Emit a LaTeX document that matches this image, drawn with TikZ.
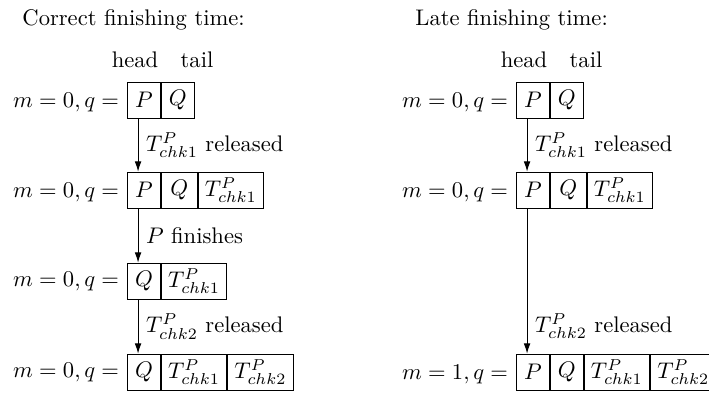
\documentclass[tikz,border=0pt]{standalone}
\usepackage{amsmath}
\usepackage{tikz}
\usetikzlibrary{arrows.meta}
\usetikzlibrary{positioning}

\begin{document}
\begin{tikzpicture}[x=0.443pt, y=-0.443pt,
  cell/.style={draw, minimum height=15.9pt, minimum width=14.6pt, inner sep=0.5pt, anchor=west},
  wide/.style={cell, minimum width=29pt},
  trans/.style={-{Latex[length=1.6mm, width=1.05mm]}}]
\useasboundingbox (0,0) rectangle (709,393);

% correct finishing time
\node[anchor=base west, inner sep=0pt] (ttlA) at (22,25) {Correct finishing time:};
\node[anchor=base] (hdA) at (135,67) {head};
\node[anchor=base] (tlA) at (197,67) {tail};

\node[cell] (a1p) at (127,100) {$P$};
\node[cell, right=0pt of a1p] (a1q) {$Q$};
\node[anchor=base east] (a1m) at (a1p.base west) {$m = 0, q =$};

\node[cell] (a2p) at (127,190) {$P$};
\node[cell, minimum width=15.9pt, right=0pt of a2p] (a2q) {$Q$};
\node[wide, right=0pt of a2q] (a2t) {$T^P_{chk1}$};
\node[anchor=base east] (a2m) at (a2p.base west) {$m = 0, q =$};

\node[cell] (a3q) at (127,281) {$Q$};
\node[wide, right=0pt of a3q] (a3t) {$T^P_{chk1}$};
\node[anchor=base east] (a3m) at (a3q.base west) {$m = 0, q =$};

\node[cell] (a4q) at (127,372) {$Q$};
\node[wide, right=0pt of a4q] (a4t) {$T^P_{chk1}$};
\node[wide, right=0pt of a4t] (a4u) {$T^P_{chk2}$};
\node[anchor=base east] (a4m) at (a4q.base west) {$m = 0, q =$};

\draw[trans] ([xshift=4.9pt]a1p.south west) -- ([xshift=4.9pt]a2p.north west) node[midway, right] {$T^P_{chk1}$ released};
\draw[trans] ([xshift=4.9pt]a2p.south west) -- ([xshift=4.9pt]a3q.north west) node[midway, right] {$P$ finishes};
\draw[trans] ([xshift=4.9pt]a3q.south west) -- ([xshift=4.9pt]a4q.north west) node[midway, right] {$T^P_{chk2}$ released};

% late finishing time
\node[anchor=base west, inner sep=0pt] (ttlB) at (415,25) {Late finishing time:};
\node[anchor=base] (hdB) at (524,67) {head};
\node[anchor=base] (tlB) at (586,67) {tail};

\node[cell] (b1p) at (516,100) {$P$};
\node[cell, right=0pt of b1p] (b1q) {$Q$};
\node[anchor=base east] (b1m) at (b1p.base west) {$m = 0, q =$};

\node[cell] (b2p) at (516,190) {$P$};
\node[cell, minimum width=15.9pt, right=0pt of b2p] (b2q) {$Q$};
\node[wide, right=0pt of b2q] (b2t) {$T^P_{chk1}$};
\node[anchor=base east] (b2m) at (b2p.base west) {$m = 0, q =$};

\node[cell] (b4p) at (516,372) {$P$};
\node[cell, right=0pt of b4p] (b4q) {$Q$};
\node[wide, right=0pt of b4q] (b4t) {$T^P_{chk1}$};
\node[wide, right=0pt of b4t] (b4u) {$T^P_{chk2}$};
\node[anchor=base east] (b4m) at (b4p.base west) {$m = 1, q =$};

\draw[trans] ([xshift=4.9pt]b1p.south west) -- ([xshift=4.9pt]b2p.north west) node[midway, right] {$T^P_{chk1}$ released};
\draw[trans] ([xshift=4.9pt]b2p.south west) -- ([xshift=4.9pt]b4p.north west) node[pos=0.81, right] {$T^P_{chk2}$ released};
\end{tikzpicture}
\end{document}
